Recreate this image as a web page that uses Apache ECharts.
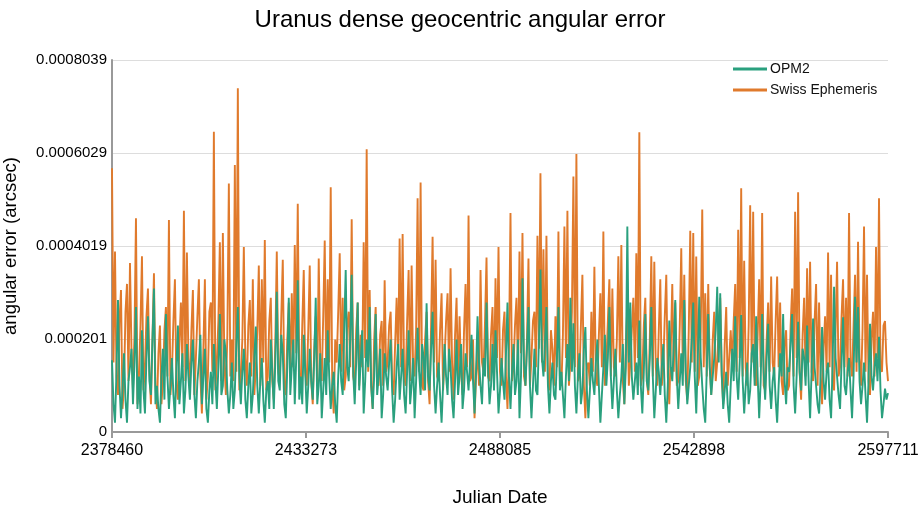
<!DOCTYPE html>
<html>
<head>
<meta charset="utf-8">
<script src="https://cdn.jsdelivr.net/npm/echarts@6/dist/echarts.min.js"></script>
<style>
html,body{margin:0;padding:0;background:#fff;}
#chart{width:920px;height:520px;}
</style>
</head>
<body>
<div id="chart"></div>
<script>
// Julian date range of the samples
const jdStart = 2378460;
const jdEnd = 2597711;
const xTickValues = [2378460, 2433273, 2488085, 2542898, 2597711];
const yTickLabels = ['0', '0.000201', '0.0004019', '0.0006029', '0.0008039'];
const yMax = 0.0008039;

// Swiss Ephemeris angular error (arcsec)
const swissValues = [
5.7e-4,1.5e-4,3.9e-4,1.2e-4,0.8e-4,2.4e-4,3.07e-4,0.5e-4,1.0e-4,2.6e-4,3.2e-4,1.1e-4,3.65e-4,1.8e-4,0.9e-4,2.1e-4,4.62e-4,0.6e-4,1.2e-4,2.3e-4,
3.8e-4,0.9e-4,1.4e-4,2.5e-4,3.1e-4,1.3e-4,0.6e-4,2.0e-4,3.43e-4,1.0e-4,0.5e-4,1.7e-4,2.3e-4,0.6e-4,1.1e-4,2.2e-4,2.7e-4,1.2e-4,4.58e-4,0.8e-4,
1.3e-4,2.4e-4,3.3e-4,1.0e-4,0.7e-4,1.9e-4,2.8e-4,1.4e-4,4.78e-4,1.1e-4,3.88e-4,1.6e-4,0.9e-4,2.2e-4,3.07e-4,0.8e-4,1.6e-4,2.5e-4,3.3e-4,1.2e-4,
0.4e-4,1.8e-4,3.3e-4,0.7e-4,1.2e-4,2.6e-4,2.8e-4,1.3e-4,6.49e-4,0.9e-4,1.5e-4,2.4e-4,4.1e-4,1.1e-4,4.3e-4,1.5e-4,0.8e-4,2.1e-4,5.37e-4,1.2e-4,
2.0e-4,1.1e-4,5.77e-4,1.3e-4,7.43e-4,0.9e-4,1.2e-4,2.0e-4,4.0e-4,1.6e-4,1.0e-4,2.3e-4,2.85e-4,1.2e-4,3.3e-4,0.8e-4,1.4e-4,2.2e-4,3.6e-4,1.0e-4,
3.3e-4,1.5e-4,4.15e-4,0.9e-4,1.2e-4,2.4e-4,2.9e-4,1.1e-4,0.7e-4,1.9e-4,3.9e-4,1.3e-4,1.1e-4,2.5e-4,3.72e-4,1.0e-4,0.8e-4,2.0e-4,2.8e-4,1.2e-4,
3.0e-4,1.4e-4,4.04e-4,1.7e-4,4.93e-4,1.2e-4,0.9e-4,2.3e-4,3.5e-4,1.3e-4,1.0e-4,2.2e-4,3.6e-4,1.1e-4,0.6e-4,1.8e-4,2.5e-4,1.0e-4,3.75e-4,1.6e-4,
1.1e-4,2.5e-4,4.14e-4,1.2e-4,3.3e-4,1.5e-4,5.29e-4,1.0e-4,0.4e-4,2.0e-4,1.5e-4,2.6e-4,3.86e-4,1.3e-4,2.9e-4,0.9e-4,1.2e-4,2.3e-4,2.6e-4,1.4e-4,
4.6e-4,1.2e-4,1.0e-4,2.2e-4,2.8e-4,1.0e-4,2.1e-4,1.4e-4,4.1e-4,1.6e-4,6.11e-4,1.3e-4,3.07e-4,1.0e-4,0.5e-4,2.0e-4,2.7e-4,1.2e-4,1.0e-4,2.1e-4,
2.4e-4,1.0e-4,3.28e-4,1.3e-4,1.5e-4,2.3e-4,2.6e-4,1.1e-4,0.8e-4,1.9e-4,2.9e-4,1.5e-4,4.18e-4,1.4e-4,4.28e-4,1.2e-4,1.0e-4,2.4e-4,3.5e-4,1.1e-4,
3.6e-4,1.4e-4,1.2e-4,2.2e-4,5.05e-4,1.3e-4,5.39e-4,1.0e-4,0.9e-4,2.0e-4,2.6e-4,1.1e-4,0.6e-4,2.3e-4,4.22e-4,1.5e-4,3.72e-4,1.2e-4,1.1e-4,2.2e-4,
3.0e-4,0.9e-4,1.6e-4,2.4e-4,3.0e-4,1.3e-4,3.54e-4,1.5e-4,0.7e-4,2.1e-4,2.9e-4,1.0e-4,2.5e-4,1.3e-4,0.8e-4,2.2e-4,3.2e-4,1.4e-4,4.68e-4,1.1e-4,
1.2e-4,2.0e-4,0.3e-4,1.2e-4,1.8e-4,1.0e-4,3.5e-4,1.5e-4,1.3e-4,2.4e-4,3.77e-4,1.2e-4,1.1e-4,2.1e-4,2.7e-4,1.0e-4,3.32e-4,1.6e-4,4.0e-4,1.3e-4,
1.0e-4,2.2e-4,2.6e-4,1.2e-4,0.5e-4,1.8e-4,4.73e-4,1.1e-4,1.4e-4,2.3e-4,2.9e-4,1.3e-4,3.9e-4,1.7e-4,4.3e-4,1.2e-4,1.0e-4,2.0e-4,3.75e-4,1.0e-4,
1.6e-4,2.4e-4,2.6e-4,1.4e-4,4.24e-4,1.8e-4,5.59e-4,1.5e-4,3.95e-4,1.3e-4,4.24e-4,1.1e-4,0.9e-4,2.2e-4,1.8e-4,1.0e-4,2.5e-4,1.4e-4,4.33e-4,1.2e-4,
1.0e-4,2.1e-4,4.44e-4,1.6e-4,4.78e-4,1.0e-4,1.5e-4,2.6e-4,5.52e-4,1.4e-4,6.01e-4,1.1e-4,1.2e-4,2.3e-4,3.4e-4,1.0e-4,0.3e-4,1.4e-4,1.5e-4,1.0e-4,
2.6e-4,1.3e-4,3.57e-4,1.2e-4,1.0e-4,2.1e-4,3.0e-4,1.4e-4,4.33e-4,1.0e-4,1.5e-4,2.4e-4,3.3e-4,1.2e-4,3.1e-4,1.4e-4,1.2e-4,2.0e-4,3.8e-4,1.5e-4,
4.04e-4,1.1e-4,0.6e-4,1.9e-4,2.7e-4,1.0e-4,1.5e-4,2.2e-4,2.9e-4,1.3e-4,3.86e-4,1.6e-4,6.48e-4,1.0e-4,1.2e-4,2.3e-4,2.9e-4,1.1e-4,0.8e-4,2.0e-4,
3.8e-4,1.2e-4,3.68e-4,1.4e-4,1.0e-4,2.2e-4,3.3e-4,1.0e-4,1.4e-4,2.5e-4,3.4e-4,1.2e-4,0.6e-4,1.8e-4,3.2e-4,1.3e-4,2.8e-4,1.0e-4,1.1e-4,2.3e-4,
3.97e-4,1.4e-4,3.4e-4,1.1e-4,0.7e-4,2.2e-4,4.35e-4,1.5e-4,4.3e-4,1.3e-4,3.79e-4,1.0e-4,1.2e-4,2.2e-4,4.81e-4,1.4e-4,3.0e-4,1.2e-4,3.2e-4,1.4e-4,
0.8e-4,2.0e-4,2.6e-4,1.1e-4,1.5e-4,2.3e-4,2.9e-4,1.2e-4,0.6e-4,1.9e-4,2.7e-4,1.0e-4,1.0e-4,2.2e-4,1.4e-4,2.4e-4,3.2e-4,1.3e-4,4.37e-4,1.6e-4,
5.27e-4,1.2e-4,3.7e-4,1.4e-4,1.0e-4,2.3e-4,4.9e-4,1.5e-4,4.76e-4,1.2e-4,1.0e-4,2.1e-4,3.3e-4,1.4e-4,4.73e-4,1.0e-4,0.9e-4,2.0e-4,2.8e-4,1.3e-4,
3.36e-4,1.5e-4,1.2e-4,2.4e-4,3.36e-4,1.4e-4,2.8e-4,1.1e-4,0.8e-4,1.9e-4,2.2e-4,0.9e-4,1.0e-4,2.3e-4,3.1e-4,1.2e-4,4.76e-4,1.6e-4,5.18e-4,1.3e-4,
0.7e-4,2.1e-4,2.9e-4,1.2e-4,3.54e-4,1.5e-4,3.68e-4,1.3e-4,1.1e-4,2.4e-4,3.2e-4,1.0e-4,2.8e-4,1.2e-4,0.6e-4,1.8e-4,2.5e-4,1.3e-4,3.88e-4,1.4e-4,
3.4e-4,1.1e-4,0.9e-4,2.2e-4,3.68e-4,1.2e-4,1.4e-4,2.5e-4,3.3e-4,1.4e-4,2.9e-4,1.2e-4,4.73e-4,1.5e-4,1.2e-4,2.3e-4,3.4e-4,1.3e-4,4.11e-4,1.6e-4,
1.0e-4,2.2e-4,4.44e-4,1.3e-4,3.4e-4,1.1e-4,0.8e-4,2.0e-4,2.6e-4,1.2e-4,4.0e-4,1.6e-4,5.05e-4,1.4e-4,1.3e-4,2.3e-4,2.4e-4,1.5e-4,1.1e-4
];

// OPM2 angular error (arcsec)
const opm2Values = [
1.55e-4,0.6e-4,0.2e-4,1.3e-4,2.85e-4,1.0e-4,0.3e-4,0.9e-4,1.7e-4,0.7e-4,0.2e-4,1.1e-4,1.4e-4,1.8e-4,0.6e-4,1.5e-4,2.7e-4,0.5e-4,1.2e-4,0.4e-4,
2.2e-4,0.9e-4,0.4e-4,1.6e-4,2.5e-4,1.1e-4,0.8e-4,2.0e-4,3.1e-4,0.6e-4,1.0e-4,0.5e-4,0.2e-4,1.2e-4,1.8e-4,0.7e-4,2.55e-4,1.2e-4,0.5e-4,1.0e-4,
1.6e-4,0.8e-4,0.3e-4,1.4e-4,2.3e-4,0.6e-4,1.1e-4,1.7e-4,0.4e-4,0.9e-4,1.9e-4,1.2e-4,0.7e-4,1.5e-4,2.0e-4,0.8e-4,0.3e-4,1.1e-4,1.5e-4,2.1e-4,
0.6e-4,1.2e-4,1.8e-4,0.5e-4,0.2e-4,0.9e-4,1.3e-4,0.6e-4,1.9e-4,1.1e-4,0.5e-4,1.4e-4,2.55e-4,0.8e-4,1.0e-4,2.0e-4,1.7e-4,0.9e-4,0.4e-4,0.8e-4,
1.5e-4,0.5e-4,0.9e-4,1.9e-4,2.7e-4,1.2e-4,0.6e-4,1.3e-4,1.8e-4,0.7e-4,0.3e-4,1.0e-4,1.5e-4,0.4e-4,0.8e-4,1.6e-4,2.28e-4,1.0e-4,0.4e-4,1.1e-4,
1.6e-4,0.7e-4,0.2e-4,0.9e-4,1.1e-4,0.5e-4,2.0e-4,1.3e-4,0.5e-4,1.5e-4,3.03e-4,1.1e-4,0.9e-4,2.1e-4,1.7e-4,0.6e-4,0.3e-4,1.4e-4,2.9e-4,0.8e-4,
1.4e-4,2.0e-4,0.6e-4,1.6e-4,3.28e-4,0.7e-4,1.2e-4,0.6e-4,2.1e-4,1.3e-4,0.4e-4,1.0e-4,1.8e-4,1.1e-4,0.7e-4,1.6e-4,2.9e-4,0.6e-4,1.0e-4,1.7e-4,
0.3e-4,0.9e-4,1.6e-4,0.8e-4,2.2e-4,1.2e-4,0.5e-4,1.0e-4,1.3e-4,0.6e-4,0.2e-4,1.2e-4,1.9e-4,1.1e-4,0.8e-4,2.2e-4,3.5e-4,1.4e-4,1.1e-4,2.0e-4,
3.4e-4,1.3e-4,0.6e-4,1.5e-4,2.8e-4,0.9e-4,1.5e-4,2.2e-4,0.4e-4,1.1e-4,2.0e-4,1.4e-4,2.7e-4,1.0e-4,0.5e-4,1.2e-4,2.55e-4,0.8e-4,1.2e-4,1.8e-4,
0.3e-4,0.8e-4,1.7e-4,1.2e-4,0.9e-4,1.5e-4,2.0e-4,0.9e-4,0.2e-4,0.7e-4,1.4e-4,1.9e-4,0.7e-4,1.2e-4,1.8e-4,0.8e-4,0.4e-4,1.3e-4,2.2e-4,0.6e-4,
1.0e-4,1.6e-4,0.3e-4,1.1e-4,2.25e-4,1.3e-4,0.8e-4,1.9e-4,1.6e-4,0.9e-4,2.78e-4,1.2e-4,0.9e-4,1.8e-4,2.6e-4,1.0e-4,0.4e-4,1.0e-4,1.5e-4,0.8e-4,
0.2e-4,1.0e-4,1.9e-4,1.2e-4,0.8e-4,1.8e-4,1.4e-4,0.7e-4,0.3e-4,1.1e-4,2.0e-4,0.8e-4,1.2e-4,1.9e-4,0.5e-4,0.9e-4,1.7e-4,1.3e-4,0.9e-4,1.5e-4,
2.1e-4,1.1e-4,0.4e-4,1.3e-4,2.5e-4,1.5e-4,1.0e-4,0.6e-4,1.6e-4,1.2e-4,2.8e-4,1.4e-4,0.6e-4,1.0e-4,1.9e-4,0.9e-4,2.2e-4,1.3e-4,0.4e-4,0.9e-4,
1.6e-4,1.1e-4,0.7e-4,1.7e-4,2.8e-4,1.2e-4,0.5e-4,1.3e-4,1.9e-4,0.8e-4,1.1e-4,2.0e-4,0.3e-4,1.2e-4,3.32e-4,1.5e-4,1.0e-4,1.8e-4,2.7e-4,1.0e-4,
0.3e-4,1.0e-4,1.8e-4,0.9e-4,0.8e-4,2.0e-4,3.51e-4,1.6e-4,1.2e-4,1.9e-4,2.7e-4,1.0e-4,0.4e-4,1.1e-4,1.5e-4,0.8e-4,0.7e-4,1.6e-4,2.7e-4,0.9e-4,
1.3e-4,0.8e-4,0.3e-4,1.2e-4,1.9e-4,1.1e-4,2.9e-4,1.3e-4,2.35e-4,1.0e-4,0.4e-4,1.2e-4,1.7e-4,0.6e-4,0.9e-4,1.8e-4,2.27e-4,0.9e-4,0.3e-4,0.9e-4,
1.6e-4,1.1e-4,0.8e-4,1.5e-4,2.0e-4,1.0e-4,0.2e-4,0.8e-4,1.4e-4,2.1e-4,1.0e-4,1.6e-4,2.7e-4,1.2e-4,0.5e-4,1.1e-4,1.8e-4,0.9e-4,0.3e-4,0.8e-4,
1.2e-4,1.9e-4,0.6e-4,1.4e-4,4.44e-4,1.5e-4,2.8e-4,1.2e-4,0.7e-4,1.1e-4,1.5e-4,0.8e-4,2.41e-4,1.0e-4,0.4e-4,1.3e-4,2.55e-4,1.1e-4,0.9e-4,1.6e-4,
2.7e-4,1.2e-4,0.3e-4,0.9e-4,1.6e-4,1.3e-4,0.8e-4,1.4e-4,1.9e-4,0.8e-4,0.2e-4,1.0e-4,2.41e-4,1.4e-4,1.1e-4,1.9e-4,2.85e-4,1.2e-4,0.5e-4,1.1e-4,
1.7e-4,1.0e-4,2.85e-4,1.3e-4,0.6e-4,1.0e-4,1.4e-4,2.0e-4,2.8e-4,1.2e-4,0.4e-4,1.5e-4,2.92e-4,1.6e-4,1.0e-4,0.5e-4,0.2e-4,1.3e-4,2.55e-4,1.4e-4,
0.8e-4,1.2e-4,1.6e-4,2.2e-4,3.14e-4,1.5e-4,3.0e-4,1.3e-4,0.5e-4,0.9e-4,1.3e-4,0.6e-4,0.2e-4,1.0e-4,1.8e-4,1.1e-4,2.5e-4,1.2e-4,0.7e-4,1.5e-4,
2.53e-4,1.1e-4,0.4e-4,1.0e-4,1.5e-4,0.6e-4,0.9e-4,1.7e-4,1.9e-4,1.0e-4,2.5e-4,1.2e-4,0.3e-4,1.1e-4,2.55e-4,1.3e-4,0.7e-4,1.6e-4,2.34e-4,1.0e-4,
0.5e-4,1.1e-4,1.4e-4,0.7e-4,0.2e-4,1.0e-4,1.7e-4,1.2e-4,2.55e-4,1.1e-4,0.6e-4,1.4e-4,1.3e-4,1.9e-4,2.55e-4,1.0e-4,0.4e-4,1.2e-4,2.38e-4,1.3e-4,
0.9e-4,1.8e-4,1.6e-4,1.0e-4,2.3e-4,1.1e-4,0.3e-4,1.3e-4,2.45e-4,1.4e-4,1.0e-4,0.6e-4,0.4e-4,1.2e-4,2.27e-4,1.1e-4,0.7e-4,1.3e-4,1.5e-4,0.7e-4,
0.3e-4,1.4e-4,3.14e-4,1.6e-4,1.2e-4,0.8e-4,0.5e-4,1.5e-4,2.48e-4,1.0e-4,0.8e-4,1.3e-4,1.6e-4,0.9e-4,0.3e-4,1.2e-4,2.92e-4,1.5e-4,2.7e-4,1.1e-4,
0.6e-4,1.0e-4,1.5e-4,0.8e-4,0.2e-4,1.1e-4,2.34e-4,1.2e-4,0.9e-4,1.4e-4,1.7e-4,1.1e-4,2.06e-4,0.9e-4,0.3e-4,0.6e-4,0.94e-4,0.7e-4,0.84e-4
];

// sample dates: evenly spaced across the Julian date range
function withDates(values) {
  const step = (jdEnd - jdStart) / (values.length - 1);
  return values.map((v, i) => [jdStart + i * step, v]);
}

const chart = echarts.init(document.getElementById('chart'), null, {renderer: 'canvas'});
const font = '"Liberation Sans", Arial, Helvetica, sans-serif';
chart.setOption({
  animation: false,
  backgroundColor: '#fff',
  textStyle: {fontFamily: font},
  title: {
    text: 'Uranus dense geocentric angular error',
    left: 'center',
    top: 3,
    textStyle: {fontFamily: font, fontSize: 24, fontWeight: 'normal', color: '#000'}
  },
  legend: {
    orient: 'vertical',
    left: 728,
    top: 57,
    itemWidth: 34,
    itemHeight: 3,
    itemGap: 7,
    icon: 'rect',
    data: ['OPM2', 'Swiss Ephemeris'],
    textStyle: {fontFamily: font, fontSize: 14, color: '#111', padding: [0, 0, 0, -2]}
  },
  grid: {left: 112, right: 32, top: 60, bottom: 88, outerBoundsMode: 'none', containLabel: false},
  xAxis: {
    type: 'value',
    min: jdStart,
    max: jdEnd,
    name: 'Julian Date',
    nameLocation: 'middle',
    nameGap: 56,
    nameTextStyle: {fontFamily: font, fontSize: 19, color: '#000'},
    axisLine: {show: true, lineStyle: {color: '#999', width: 2}},
    axisTick: {show: true, length: 6, lineStyle: {color: '#999', width: 2}, customValues: xTickValues},
    axisLabel: {
      customValues: xTickValues,
      fontFamily: font, fontSize: 16, color: '#000', margin: 11,
      formatter: v => String(Math.round(v))
    },
    splitLine: {show: false}
  },
  yAxis: {
    type: 'value',
    min: 0,
    max: yMax,
    interval: yMax / 4,
    name: 'angular error (arcsec)',
    nameLocation: 'middle',
    nameGap: 92,
    nameTextStyle: {fontFamily: font, fontSize: 18.5, color: '#000'},
    axisLine: {show: true, lineStyle: {color: '#999', width: 2}},
    axisTick: {show: false},
    axisLabel: {
      fontFamily: font, fontSize: 15, color: '#000', margin: 5,
      formatter: v => yTickLabels[Math.round(v / yMax * 4)]
    },
    splitLine: {show: true, lineStyle: {color: '#ddd', width: 1}}
  },
  series: [
    {
      name: 'Swiss Ephemeris',
      type: 'line',
      data: withDates(swissValues),
      showSymbol: false,
      z: 2,
      itemStyle: {color: '#e07a2c'},
      lineStyle: {color: '#e07a2c', width: 1.9}
    },
    {
      name: 'OPM2',
      type: 'line',
      data: withDates(opm2Values),
      showSymbol: false,
      z: 3,
      itemStyle: {color: '#2aa07e'},
      lineStyle: {color: '#2aa07e', width: 1.9}
    }
  ]
});
</script>
</body>
</html>
